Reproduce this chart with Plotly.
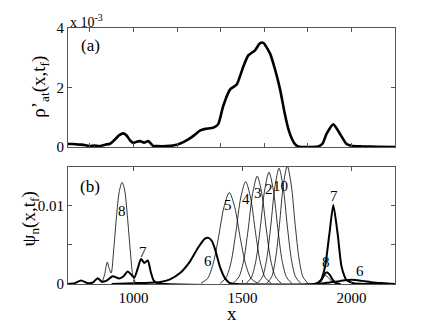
import plotly.graph_objects as go

# ---- panel (a): rho'_at(x, t_f), values in units of 1e-3
rho_x = [700, 720, 740, 760, 780, 801, 820, 845, 870, 893, 915, 935, 954, 970,
         985, 1000, 1015, 1030, 1049, 1068, 1080, 1090, 1110, 1150, 1182, 1215,
         1250, 1280, 1305, 1330, 1351, 1370, 1389, 1412, 1443, 1474, 1504, 1527,
         1558, 1581, 1596, 1627, 1650, 1673, 1695, 1711, 1727, 1741, 1760, 1800,
         1848, 1868, 1886, 1917, 1948, 1978, 2000, 2050, 2120, 2200]
rho_y = [0.10, 0.10, 0.09, 0.08, 0.06, 0.03, 0.05, 0.03, 0.08, 0.11, 0.25, 0.40,
         0.46, 0.38, 0.22, 0.14, 0.18, 0.20, 0.15, 0.20, 0.12, 0.04, 0.03, 0.03,
         0.05, 0.12, 0.25, 0.40, 0.55, 0.61, 0.63, 0.66, 0.77, 1.38, 1.93, 2.10,
         2.70, 3.08, 3.25, 3.49, 3.50, 3.14, 2.60, 1.93, 1.10, 0.60, 0.28, 0.10,
         0.01, 0.0, 0.02, 0.12, 0.44, 0.76, 0.44, 0.10, 0.04, 0.02, 0.01, 0.0]

# ---- panel (b): psi_n(x, t_f)
# thin curves
thin8_x = [855, 868, 880, 890, 898, 910, 922, 935, 948, 960, 972, 985, 997, 1010, 1030]
thin8_y = [0.0001, 0.0012, 0.0028, 0.0019, 0.0014, 0.0045, 0.0085, 0.0118, 0.0130,
           0.0120, 0.0088, 0.0045, 0.0012, 0.0002, 0.0]

p5_x = [1310, 1340, 1365, 1390, 1415, 1440, 1465, 1490, 1515, 1540, 1570]
p5_y = [0.0001, 0.0007, 0.0025, 0.0059, 0.0098, 0.0117, 0.0098, 0.0059, 0.0025, 0.0007, 0.0001]
p4_x = [1398, 1425, 1448, 1470, 1492, 1515, 1538, 1560, 1582, 1605, 1632]
p4_y = [0.0001, 0.0008, 0.0028, 0.0066, 0.0110, 0.0131, 0.0110, 0.0066, 0.0028, 0.0008, 0.0001]
p3_x = [1458, 1484, 1505, 1526, 1547, 1568, 1589, 1610, 1631, 1652, 1678]
p3_y = [0.0001, 0.0009, 0.0029, 0.0069, 0.0116, 0.0138, 0.0116, 0.0069, 0.0029, 0.0009, 0.0001]
p2_x = [1518, 1542, 1562, 1582, 1602, 1622, 1642, 1662, 1682, 1702, 1726]
p2_y = [0.0001, 0.0009, 0.0030, 0.0072, 0.0120, 0.0143, 0.0120, 0.0072, 0.0030, 0.0009, 0.0001]
p1_x = [1569, 1592, 1611, 1630, 1649, 1668, 1687, 1706, 1725, 1744, 1767]
p1_y = [0.0001, 0.0009, 0.0031, 0.0074, 0.0124, 0.0148, 0.0124, 0.0074, 0.0031, 0.0009, 0.0001]
p0_x = [1612, 1634, 1652, 1670, 1688, 1706, 1724, 1742, 1760, 1778, 1800]
p0_y = [0.0001, 0.0009, 0.0032, 0.0076, 0.0127, 0.0151, 0.0127, 0.0076, 0.0032, 0.0009, 0.0001]

thin8r_x = [1845, 1865, 1880, 1895, 1915, 1935]
thin8r_y = [0.0, 0.0006, 0.0011, 0.0008, 0.0002, 0.0]

# thick curves
thick7_x = [700, 730, 760, 790, 815, 836, 855, 875, 905, 935, 955, 974, 990, 1004,
            1020, 1035, 1050, 1066, 1080, 1092, 1110, 1150, 1830, 1860, 1879, 1899,
            1917, 1937, 1955, 1978, 2010, 2200]
thick7_y = [0.0, 0.0001, 0.00045, 0.0001, 0.0002, 0.00075, 0.0003, 0.0004, 0.0010,
            0.0007, 0.0010, 0.0016, 0.0012, 0.0008, 0.0020, 0.0032, 0.0027, 0.0030,
            0.0015, 0.0005, 0.0001, 0.0, 0.0, 0.0005, 0.0022, 0.0064, 0.0101,
            0.0064, 0.0022, 0.0005, 0.0001, 0.0]

thick6_x = [900, 1000, 1100, 1130, 1168, 1214, 1260, 1298, 1328, 1344, 1360, 1374,
            1397, 1420, 1443, 1470, 1850, 1900, 1950, 2003, 2050, 2100, 2150, 2200]
thick6_y = [0.0, 0.0001, 0.0002, 0.0003, 0.0006, 0.0014, 0.0029, 0.0047, 0.0058,
            0.0059, 0.0055, 0.0045, 0.0022, 0.00075, 0.0001, 0.0, 0.0, 0.0002,
            0.0004, 0.00055, 0.0004, 0.0002, 0.0001, 0.0]

thick8_x = [1840, 1860, 1875, 1887, 1900, 1915, 1932, 1950]
thick8_y = [0.0, 0.0004, 0.0012, 0.0015, 0.0012, 0.0005, 0.0001, 0.0]

# curve labels in panel (b)
lab_text = ["8", "7", "6", "5", "4", "3", "2", "10", "7", "8", "6"]
lab_x = [948, 1045, 1344, 1435, 1517, 1570, 1624, 1676, 1921, 1883, 2039]
lab_y = [0.0094, 0.0041, 0.0029, 0.0101, 0.0109, 0.0116, 0.0121, 0.0126, 0.0113, 0.0028, 0.0017]

SERIF = "Liberation Serif"

fig = go.Figure()

fig.add_trace(go.Scatter(x=rho_x, y=[v * 1e-3 for v in rho_y], mode="lines",
                         line=dict(color="black", width=2.6, shape="spline", smoothing=0.6),
                         xaxis="x", yaxis="y"))

thin = [(thin8_x, thin8_y), (p5_x, p5_y), (p4_x, p4_y), (p3_x, p3_y),
        (p2_x, p2_y), (p1_x, p1_y), (p0_x, p0_y), (thin8r_x, thin8r_y)]
for xs, ys in thin:
    fig.add_trace(go.Scatter(x=xs, y=ys, mode="lines",
                             line=dict(color="black", width=0.8, shape="spline", smoothing=0.8),
                             xaxis="x2", yaxis="y2"))

thick = [(thick7_x, thick7_y), (thick6_x, thick6_y), (thick8_x, thick8_y)]
for xs, ys in thick:
    fig.add_trace(go.Scatter(x=xs, y=ys, mode="lines",
                             line=dict(color="black", width=2.0, shape="spline", smoothing=0.6),
                             xaxis="x2", yaxis="y2"))

axis_style = dict(showline=True, mirror="ticks", linecolor="#555", linewidth=1,
                  ticks="inside", ticklen=4, tickcolor="#555", showgrid=False,
                  zeroline=False, tickfont=dict(family=SERIF, size=15, color="black"))

# the page adds an 8px body margin, so the figure is a bit smaller than the window
fig.update_layout(
    width=428, height=320,
    margin=dict(l=60, r=41, t=16, b=44),
    paper_bgcolor="white", plot_bgcolor="white",
    showlegend=False,
    font=dict(family=SERIF, color="black"),
    xaxis=dict(domain=[0, 1], range=[700, 2200], anchor="y",
               tickvals=[800, 1000, 1200, 1400, 1600, 1800, 2000],
               showticklabels=False, **axis_style),
    yaxis=dict(domain=[0.535, 1], range=[0, 0.004], anchor="x",
               tickvals=[0, 0.002, 0.004], ticktext=["0", "2", "4"], **axis_style),
    xaxis2=dict(domain=[0, 1], range=[700, 2200], anchor="y2",
                tickvals=[1000, 1500, 2000], ticktext=["1000", "1500", "2000"], **axis_style),
    yaxis2=dict(domain=[0, 0.458], range=[0, 0.015], anchor="x2",
                tickvals=[0, 0.005, 0.01], ticktext=["0", "", "0.01"], **axis_style),
)

for t, x, y in zip(lab_text, lab_x, lab_y):
    fig.add_annotation(x=x, y=y, xref="x2", yref="y2", text=t, showarrow=False,
                       font=dict(family=SERIF, size=15, color="black"))

fig.add_annotation(x=801, y=0.0034, xref="x", yref="y", text="(a)", showarrow=False,
                   font=dict(family=SERIF, size=17, color="black"))
fig.add_annotation(x=801, y=0.0125, xref="x2", yref="y2", text="(b)", showarrow=False,
                   font=dict(family=SERIF, size=17, color="black"))
fig.add_annotation(x=0, y=1.027, xref="paper", yref="paper", xanchor="left", yanchor="middle",
                   text="x 10<sup>-3</sup>", showarrow=False,
                   font=dict(family=SERIF, size=14, color="black"))
fig.add_annotation(x=0.5, y=-0.115, xref="paper", yref="paper", xanchor="center", yanchor="middle",
                   text="x", showarrow=False,
                   font=dict(family=SERIF, size=19, color="black"))
fig.add_annotation(x=-0.086, y=0.77, xref="paper", yref="paper", xanchor="center", yanchor="middle",
                   textangle=-90, text="ρ’<sub>at</sub>(x,t<sub>f</sub>)", showarrow=False,
                   font=dict(family=SERIF, size=19, color="black"))
fig.add_annotation(x=-0.117, y=0.255, xref="paper", yref="paper", xanchor="center", yanchor="middle",
                   textangle=-90, text="ψ<sub>n</sub>(x,t<sub>f</sub>)", showarrow=False,
                   font=dict(family=SERIF, size=19, color="black"))

fig.write_html("out.html")
